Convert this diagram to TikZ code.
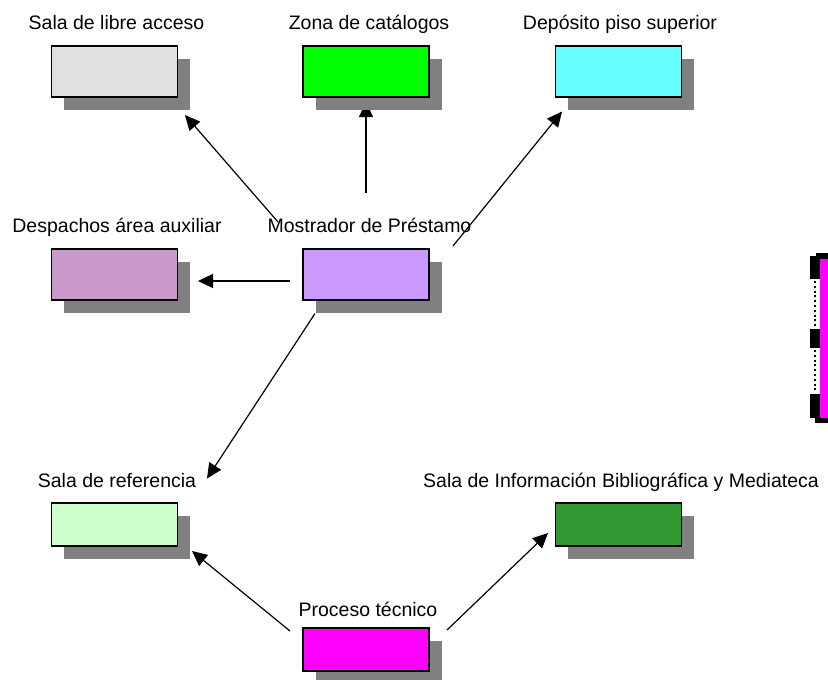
\documentclass[tikz,border=0pt]{standalone}
\usepackage{fontspec}
\setmainfont{Liberation Sans}
\usetikzlibrary{arrows.meta,shadows}
\definecolor{cLibre}{HTML}{E0E0E0}
\definecolor{cZona}{HTML}{00FF00}
\definecolor{cDepo}{HTML}{66FFFF}
\definecolor{cDesp}{HTML}{CC99CC}
\definecolor{cMostr}{HTML}{CC99FF}
\definecolor{cRef}{HTML}{CCFFCC}
\definecolor{cInfo}{HTML}{339933}
\definecolor{cProc}{HTML}{FF00FF}
\definecolor{cShadow}{HTML}{808080}
\tikzset{
  roombox/.style={draw=black, line width=1.3pt, minimum width=126pt, minimum height=51pt,
    inner sep=0pt, outer sep=0pt,
    drop shadow={shadow xshift=12.5pt, shadow yshift=-12.5pt, opacity=1, fill=cShadow}},
  lowbox/.style={roombox, minimum height=43pt},
  roomlabel/.style={anchor=base, inner sep=0pt, font=\fontsize{19.5}{23}\selectfont},
  flow/.style={line width=1.2pt, -{Triangle[length=15pt,width=14pt]}}
}
\begin{document}
\begin{tikzpicture}[x=1pt,y=-1pt]
\useasboundingbox (0,0) rectangle (828,680);
\clip (0,0) rectangle (828,680);
% connector end points
\coordinate (m1) at (278,222);
\coordinate (t1) at (185,115);
\coordinate (m2) at (366,193);
\coordinate (t2) at (366,102);
\coordinate (m3) at (453,246);
\coordinate (t3) at (562,111.5);
\coordinate (m4) at (290,281);
\coordinate (t4) at (198,281);
\coordinate (m5) at (315,313.5);
\coordinate (t5) at (207,478.5);
\coordinate (p1) at (290,631);
\coordinate (t6) at (192,551);
\coordinate (p2) at (447,630);
\coordinate (t7) at (548,533);
% connectors (drawn under the boxes and their shadows)
\draw[flow] (m1) -- (t1);
\draw[flow] (m2) -- (t2);
\draw[flow] (m3) -- (t3);
\draw[flow] (m4) -- (t4);
\draw[flow] (m5) -- (t5);
\draw[flow] (p1) -- (t6);
\draw[flow] (p2) -- (t7);
% boxes
\node[roombox, fill=cLibre] (libre) at (114.7,71.5) {};
\node[roombox, fill=cZona] (zona) at (366,71.5) {};
\node[roombox, fill=cDepo] (depo) at (618.3,71.5) {};
\node[roombox, fill=cDesp] (desp) at (114.7,274.5) {};
\node[roombox, fill=cMostr] (mostr) at (366,274.5) {};
\node[lowbox, fill=cRef] (ref) at (114.7,524.5) {};
\node[lowbox, fill=cInfo] (info) at (618.3,524.5) {};
\node[lowbox, fill=cProc] (proc) at (366,649.5) {};
% labels
\node[roomlabel] (llibre) at (116.5,29.5) {Sala de libre acceso};
\node[roomlabel] (lzona) at (369,29.5) {Zona de catálogos};
\node[roomlabel] (ldepo) at (620,29.5) {Depósito piso superior};
\node[roomlabel] (ldesp) at (117,232) {Despachos área auxiliar};
\node[roomlabel] (lmostr) at (369.5,232) {Mostrador de Préstamo};
\node[roomlabel] (lref) at (117,487) {Sala de referencia};
\node[roomlabel] (linfo) at (621,487) {Sala de Información Bibliográfica y Mediateca};
\node[roomlabel] (lproc) at (368,616) {Proceso técnico};
% partially visible selected shape at right edge
\fill[cProc] (820,259) rectangle (828,418);
\fill[black] (816,253) rectangle (828,259);
\fill[black] (810,256) rectangle (820,278.5);
\fill[black] (810,329) rectangle (820,348);
\fill[black] (810,394) rectangle (820,418);
\fill[black] (815,418) rectangle (828,423);
\draw[line width=1.5pt, dash pattern=on 2pt off 2.8pt] (815,281) -- (815,328);
\draw[line width=1.5pt, dash pattern=on 2pt off 2.8pt] (815,350) -- (815,393);
\end{tikzpicture}
\end{document}
